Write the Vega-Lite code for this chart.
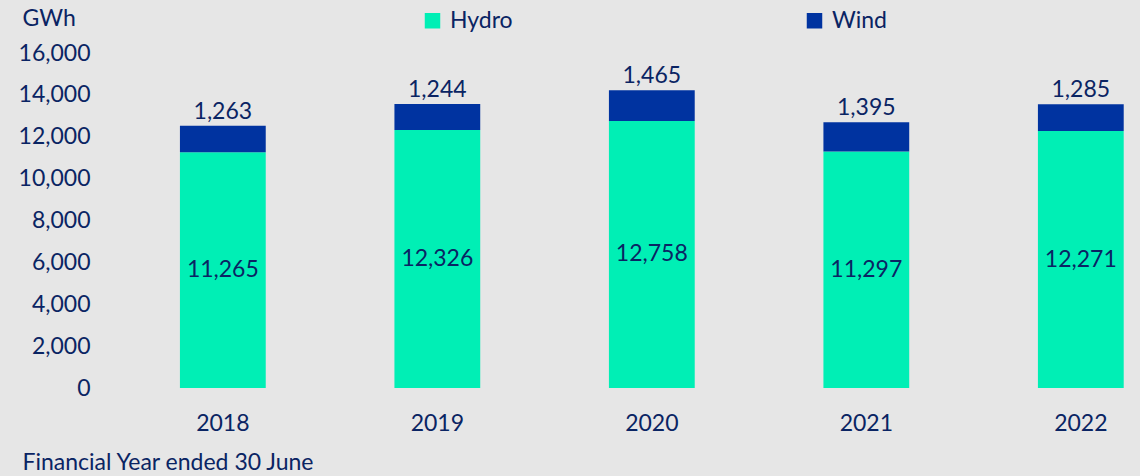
{
  "$schema": "https://vega.github.io/schema/vega-lite/v6.json",
  "width": 1024,
  "height": 335,
  "autosize": {"type": "none"},
  "padding": {"left": 116, "top": 53, "right": 0, "bottom": 88},
  "background": "#e6e6e6",
  "config": {
    "view": {"stroke": null},
    "font": "Lato",
    "text": {"font": "Lato"}
  },
  "data": {
    "values": [
      {"year": "2018", "source": "Hydro", "value": 11265},
      {"year": "2018", "source": "Wind", "value": 1263},
      {"year": "2019", "source": "Hydro", "value": 12326},
      {"year": "2019", "source": "Wind", "value": 1244},
      {"year": "2020", "source": "Hydro", "value": 12758},
      {"year": "2020", "source": "Wind", "value": 1465},
      {"year": "2021", "source": "Hydro", "value": 11297},
      {"year": "2021", "source": "Wind", "value": 1395},
      {"year": "2022", "source": "Hydro", "value": 12271},
      {"year": "2022", "source": "Wind", "value": 1285}
    ]
  },
  "encoding": {
    "x": {
      "field": "year",
      "type": "nominal",
      "scale": {"paddingInner": 0.6, "paddingOuter": 0.187, "align": 0.797},
      "axis": {
        "title": "Financial Year ended 30 June",
        "titleFont": "Lato",
        "titleFontSize": 23,
        "titleFontWeight": "normal",
        "titleColor": "#0a2463",
        "titleAnchor": "start",
        "titleAlign": "left",
        "titleBaseline": "middle",
        "titleX": -94,
        "titleY": 74,
        "labelAngle": 0,
        "labelFont": "Lato",
        "labelFontSize": 23,
        "labelColor": "#0a2463",
        "labelPadding": 24,
        "ticks": false,
        "domain": false
      }
    }
  },
  "layer": [
    {
      "mark": {"type": "bar"},
      "encoding": {
        "y": {
          "field": "value",
          "type": "quantitative",
          "stack": "zero",
          "scale": {"domain": [0, 16000], "nice": false},
          "axis": {
            "values": [0, 2000, 4000, 6000, 8000, 10000, 12000, 14000, 16000],
            "format": ",d",
            "grid": false,
            "domain": false,
            "ticks": false,
            "labelFont": "Lato",
            "labelFontSize": 23,
            "labelColor": "#0a2463",
            "labelPadding": 26,
            "title": "GWh",
            "titleFont": "Lato",
            "titleFontSize": 23,
            "titleFontWeight": "normal",
            "titleColor": "#0a2463",
            "titleAngle": 0,
            "titleAlign": "left",
            "titleBaseline": "middle",
            "titleX": -94,
            "titleY": -35
          }
        },
        "color": {
          "field": "source",
          "type": "nominal",
          "scale": {"domain": ["Hydro", "Wind"], "range": ["#00efb5", "#0033a0"]},
          "legend": {
            "title": null,
            "orient": "none",
            "legendX": 305,
            "legendY": -44,
            "direction": "horizontal",
            "symbolType": "square",
            "symbolSize": 240,
            "symbolStrokeWidth": 0,
            "labelFont": "Lato",
            "labelFontSize": 23,
            "labelColor": "#0a2463",
            "labelOffset": 6,
            "columnPadding": 290
          }
        },
        "order": {"field": "source", "sort": "ascending"}
      }
    },
    {
      "transform": [
        {"filter": "datum.source === 'Hydro'"},
        {"calculate": "datum.value / 2", "as": "mid"}
      ],
      "mark": {"type": "text", "baseline": "middle", "fontSize": 23, "color": "#0a2463", "font": "Lato"},
      "encoding": {
        "y": {"field": "mid", "type": "quantitative"},
        "text": {"field": "value", "type": "quantitative", "format": ",d"}
      }
    },
    {
      "transform": [
        {"joinaggregate": [{"op": "sum", "field": "value", "as": "total"}], "groupby": ["year"]},
        {"filter": "datum.source === 'Wind'"}
      ],
      "mark": {"type": "text", "baseline": "alphabetic", "dy": -7, "fontSize": 23, "color": "#0a2463", "font": "Lato"},
      "encoding": {
        "y": {"field": "total", "type": "quantitative"},
        "text": {"field": "value", "type": "quantitative", "format": ",d"}
      }
    }
  ]
}
